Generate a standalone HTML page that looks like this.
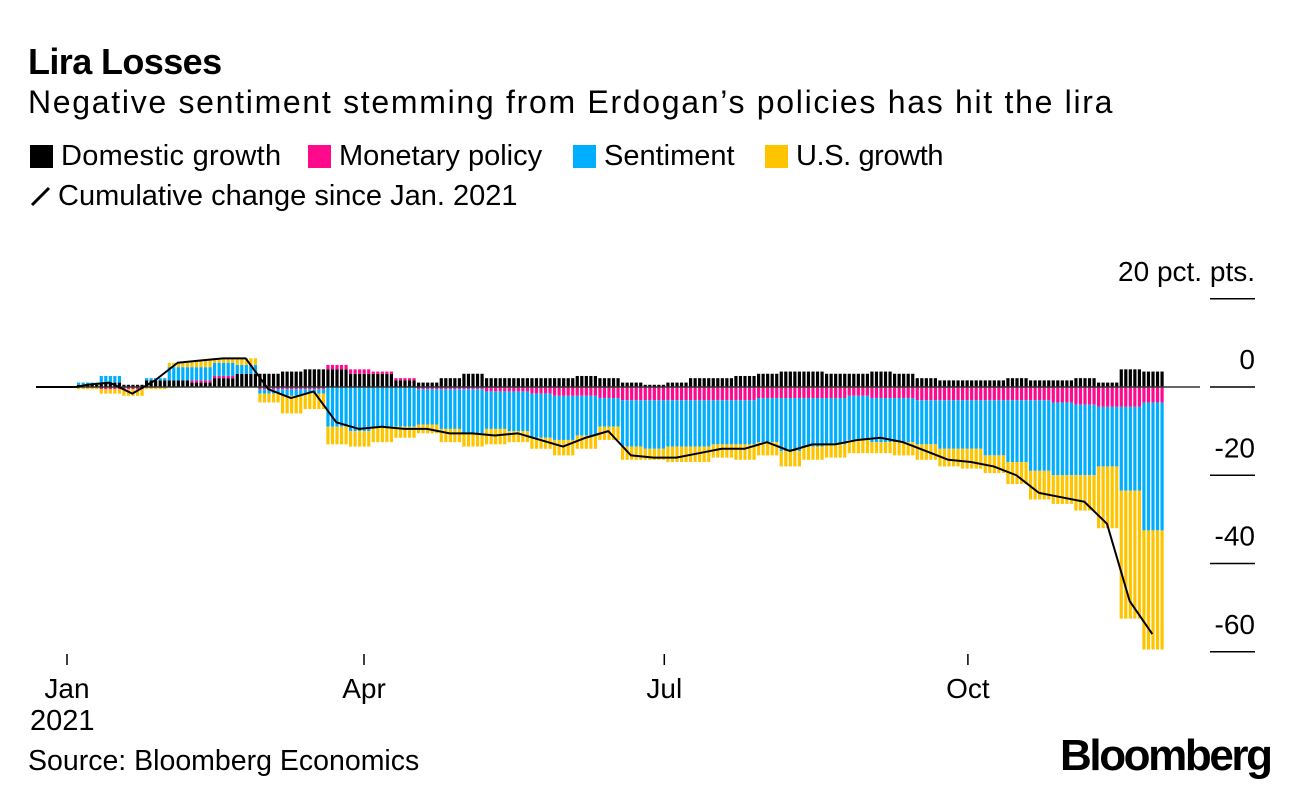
<!DOCTYPE html>
<html><head><meta charset="utf-8">
<style>
body{margin:0;background:#fff;font-family:"Liberation Sans",Arial,sans-serif;}
#wrap{position:relative;width:1296px;height:796px;overflow:hidden;}
.t{position:absolute;white-space:nowrap;color:#000;}
</style></head>
<body>
<div id="wrap">
<div class="t" style="left:28px;top:41px;font-size:36px;font-weight:bold;letter-spacing:-0.6px;">Lira Losses</div>
<div class="t" style="left:28px;top:84px;font-size:32px;letter-spacing:1.7px;">Negative sentiment stemming from Erdogan’s policies has hit the lira</div>
<div>
<div class="t" style="left:30px;top:140px;font-size:29px;letter-spacing:0.3px;"><span style="display:inline-block;width:23px;height:23px;background:#000;vertical-align:-3px;margin-right:8px;"></span>Domestic growth</div>
<div class="t" style="left:308px;top:140px;font-size:29px;"><span style="display:inline-block;width:23px;height:23px;background:#ff0a8c;vertical-align:-3px;margin-right:8px;"></span>Monetary policy</div>
<div class="t" style="left:573px;top:140px;font-size:29px;"><span style="display:inline-block;width:23px;height:23px;background:#00aeff;vertical-align:-3px;margin-right:8px;"></span>Sentiment</div>
<div class="t" style="left:765px;top:140px;font-size:29px;letter-spacing:-0.4px;"><span style="display:inline-block;width:23px;height:23px;background:#ffc400;vertical-align:-3px;margin-right:8px;"></span>U.S. growth</div>
<div class="t" style="left:30px;top:180px;font-size:29px;"><svg width="22" height="24" style="vertical-align:-3px;margin-right:6px"><line x1="2" y1="21" x2="19" y2="4" stroke="#000" stroke-width="3"/></svg>Cumulative change since Jan. 2021</div>
</div>
<svg id="chart" width="1296" height="796" style="position:absolute;left:0;top:0"></svg>
<div class="t" style="left:30px;top:705px;font-size:29px;">2021</div>
<div class="t" style="left:28px;top:745px;font-size:28.5px;">Source: Bloomberg Economics</div>
<div class="t" style="left:1060px;top:731px;font-size:44px;font-weight:bold;letter-spacing:-2.4px;">Bloomberg</div>
</div>
<script>
const domestic = [0.5,1,0.5,1.5,1.5,1,2,3,3,3.5,4,4,3,3,1.5,1,2,3,2,2,2,2,2.5,2,1,0.5,1,2,2,2.5,3,3.5,3.5,3,3,3.5,3,2,1.5,1.5,1.5,2,1.5,1.5,2,1,4,3.5];
const monetary = [0,-0.5,-0.5,0,0,0.5,0.5,0,-0.5,-0.5,-0.5,1,1,0.5,0.5,-0.5,-0.5,-0.5,-1,-1,-1.5,-2,-2,-2.5,-3,-3,-3,-3,-3,-3,-2.5,-2.5,-2.5,-2.5,-2,-2.5,-2.5,-3,-3,-3,-3,-3,-3,-3.5,-4,-4.5,-4.5,-3.5];
const sentiment = [0.5,1.5,0,0.5,3,3,3,2,-1,-1.5,-1,-9,-10,-9,-9,-8,-9,-10,-8.5,-9,-10,-10,-9,-6.5,-10.5,-11,-10.5,-10.5,-10,-10,-10,-12,-11,-10.5,-10,-10,-10,-10,-11,-11,-12.5,-14,-16,-16.5,-16,-13.5,-19,-29];
const usGrowth = [-0.5,-1,-1.5,-0.5,1,1.5,1,1.5,-2,-4,-3.5,-4,-3.5,-3.5,-2.5,-2,-3,-3,-3.5,-2.5,-2.5,-3.5,-3,-3,-3,-2.5,-3.5,-3.5,-3,-3.5,-3,-3.5,-3,-3,-3,-2.5,-3,-3.5,-4,-4.5,-4,-5,-6.5,-6.5,-8,-14,-29,-27];
const yTicks = [20,0,-20,-40,-60];
const yTickLabels = ["20 pct. pts.","0","-20","-40","-60"];
const xTickDays = [0,90,181,273];
const xTickLabels = ["Jan","Apr","Jul","Oct"];

const NS="http://www.w3.org/2000/svg";
const svg=document.getElementById('chart');
function y(v){return 387 - v*4.4125;}
function xDay(d){return 67 + d*3.3;}
const weekW=(1165-77)/48;
function weekX(i){return 77 + i*weekW;}
function mk(tag,attrs){const e=document.createElementNS(NS,tag);for(const k in attrs)e.setAttribute(k,attrs[k]);svg.appendChild(e);return e;}

const series=[domestic,monetary,sentiment,usGrowth];
const colors=['#000','#ff0a8c','#00aeff','#ffc400'];
const names=['domestic-growth','monetary-policy','sentiment','us-growth'];
const pitch=weekW/5;
for(let i=0;i<domestic.length;i++){
  for(let k=0;k<5;k++){
    const bx=weekX(i)+k*pitch;
    let pos=0,neg=0;
    for(let s=0;s<4;s++){
      const v=series[s][i];
      if(v===0)continue;
      let y1,y2;
      if(v>0){y1=y(pos+v);y2=y(pos);pos+=v;}else{y1=y(neg);y2=y(neg+v);neg+=v;}
      const r=mk('rect',{x:bx,y:y1,width:3.2,height:Math.max(0,y2-y1),fill:colors[s]});
      
      
    }
  }
}
const zl=mk('line',{x1:36,x2:1200,y1:387,y2:387,stroke:'#333','stroke-width':1.5});


let pts=[[36,387],[weekX(0)-1,387]];
for(let i=0;i<domestic.length;i++){
  const tot=domestic[i]+monetary[i]+sentiment[i]+usGrowth[i];
  pts.push([weekX(i)+10,y(tot)]);
}
const cl=mk('polyline',{points:pts.map(p=>p.join(',')).join(' '),fill:'none',stroke:'#000','stroke-width':2,'stroke-linejoin':'round'});


yTicks.forEach((v,i)=>{
  const l=mk('line',{x1:1210,x2:1255,y1:y(v),y2:y(v),stroke:'#000','stroke-width':1.5});
  
  
  const t=mk('text',{x:1255,y:y(v)-18,'text-anchor':'end','font-size':28,'font-family':'Liberation Sans, Arial, sans-serif',fill:'#000'});
  t.textContent=yTickLabels[i];
  
  
});
xTickDays.forEach((d,i)=>{
  const l=mk('line',{x1:xDay(d),x2:xDay(d),y1:654,y2:665,stroke:'#000','stroke-width':1.5});
  
  
  const t=mk('text',{x:xDay(d),y:698,'text-anchor':'middle','font-size':28,'font-family':'Liberation Sans, Arial, sans-serif',fill:'#000'});
  t.textContent=xTickLabels[i];
  
  
});
</script>
</body></html>
